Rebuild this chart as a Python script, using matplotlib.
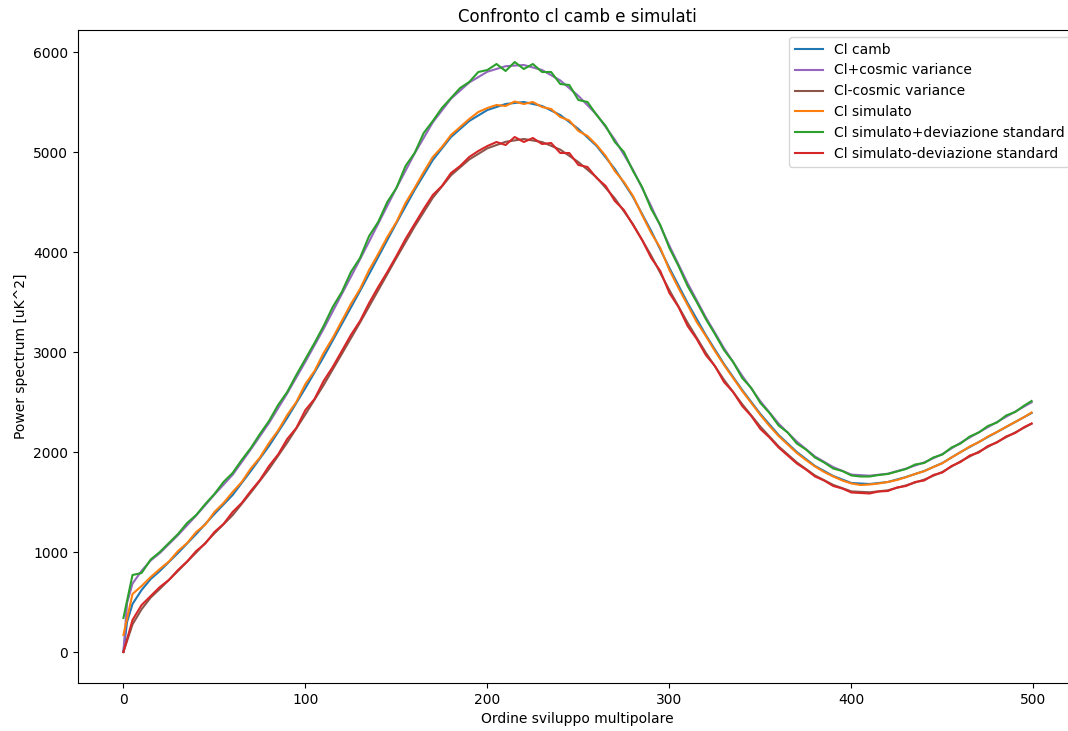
import numpy as np
import matplotlib
matplotlib.use("Agg")
import matplotlib.pyplot as plt

# Multipoles for the theoretical (CAMB) curves
ell_camb = [0, 2, 5, 10, 15, 20, 30, 40, 50, 60, 70, 80, 90, 100, 110, 120, 130, 140,
            150, 160, 170, 180, 190, 200, 210, 220, 230, 240, 250, 260, 270, 280, 290,
            300, 310, 320, 330, 340, 350, 360, 370, 380, 390, 400, 410, 420, 430, 440,
            450, 460, 470, 480, 490, 499]

cl_camb = [0, 300, 480, 620, 730, 810, 990, 1180, 1380, 1570, 1810, 2060, 2340, 2640,
           2950, 3280, 3610, 3950, 4290, 4620, 4920, 5150, 5310, 5420, 5480, 5500, 5460,
           5370, 5230, 5060, 4830, 4550, 4210, 3840, 3490, 3170, 2880, 2620, 2380, 2170,
           2000, 1860, 1760, 1690, 1680, 1700, 1750, 1810, 1890, 2000, 2100, 2200, 2300, 2390]

cl_plus_cv = [0, 490, 684, 812, 915, 989, 1169, 1365, 1574, 1772, 2026, 2290, 2586, 2903,
              3231, 3579, 3926, 4283, 4640, 4985, 5297, 5533, 5695, 5803, 5858, 5870, 5820,
              5716, 5561, 5374, 5124, 4822, 4457, 4062, 3688, 3347, 3038, 2762, 2507, 2284,
              2104, 1955, 1849, 1774, 1763, 1783, 1834, 1896, 1979, 2093, 2197, 2300, 2404, 2497]

cl_minus_cv = [0, 110, 276, 428, 545, 631, 811, 995, 1186, 1368, 1594, 1830, 2094, 2377,
               2669, 2981, 3294, 3617, 3940, 4255, 4543, 4767, 4925, 5037, 5102, 5130, 5100,
               5024, 4899, 4746, 4536, 4278, 3963, 3618, 3292, 2993, 2722, 2478, 2253, 2056,
               1896, 1765, 1671, 1606, 1597, 1617, 1666, 1724, 1801, 1907, 2003, 2100, 2196, 2283]

# Multipoles for the simulated curves
ell_sim = list(range(0, 500, 5)) + [499]

cl_sim = [170, 580, 660, 750, 830, 905, 1010, 1090, 1200, 1275, 1400, 1490, 1600, 1700,
          1835, 1945, 2090, 2215, 2370, 2500, 2680, 2810, 2990, 3140, 3310, 3480, 3630,
          3820, 3980, 4150, 4300, 4490, 4640, 4800, 4950, 5050, 5170, 5250, 5330, 5400,
          5440, 5470, 5460, 5505, 5480, 5500, 5450, 5430, 5350, 5315, 5210, 5160, 5070,
          4960, 4810, 4700, 4560, 4370, 4190, 4040, 3820, 3640, 3470, 3300, 3160, 3010,
          2870, 2740, 2610, 2490, 2370, 2260, 2160, 2075, 1990, 1920, 1855, 1800, 1755,
          1715, 1685, 1670, 1675, 1685, 1700, 1720, 1748, 1780, 1808, 1850, 1888, 1945,
          1998, 2055, 2098, 2155, 2200, 2252, 2300, 2350, 2395]

cl_sim_plus_std = [340, 770, 790, 925, 1000, 1090, 1180, 1290, 1370, 1480, 1580, 1700, 1790,
                   1920, 2040, 2180, 2310, 2470, 2600, 2770, 2930, 3090, 3260, 3450, 3600,
                   3800, 3940, 4160, 4300, 4500, 4640, 4860, 4990, 5190, 5310, 5440, 5540,
                   5640, 5700, 5800, 5820, 5880, 5810, 5900, 5830, 5880, 5800, 5800, 5680,
                   5670, 5520, 5500, 5370, 5260, 5100, 5000, 4810, 4650, 4430, 4270, 4040,
                   3860, 3660, 3500, 3330, 3180, 3020, 2900, 2740, 2640, 2490, 2390, 2265,
                   2195, 2085, 2025, 1945, 1895, 1835, 1810, 1765, 1755, 1755, 1770, 1780,
                   1805, 1830, 1875, 1890, 1945, 1975, 2045, 2085, 2155, 2195, 2260, 2295,
                   2365, 2400, 2465, 2510]

cl_sim_minus_std = [0, 320, 470, 560, 650, 720, 820, 905, 1010, 1085, 1200, 1280, 1400, 1490,
                    1610, 1720, 1860, 1975, 2130, 2240, 2420, 2530, 2710, 2850, 3010, 3170,
                    3310, 3490, 3650, 3800, 3960, 4130, 4280, 4430, 4570, 4660, 4790, 4860,
                    4950, 5010, 5060, 5100, 5070, 5150, 5100, 5140, 5080, 5090, 4990, 4990,
                    4870, 4850, 4740, 4660, 4510, 4420, 4270, 4120, 3940, 3810, 3590, 3450,
                    3260, 3130, 2970, 2860, 2700, 2600, 2460, 2360, 2230, 2145, 2045, 1965,
                    1885, 1825, 1755, 1715, 1660, 1635, 1595, 1590, 1585, 1605, 1610, 1645,
                    1660, 1700, 1715, 1770, 1795, 1860, 1900, 1965, 1995, 2060, 2095, 2155,
                    2190, 2250, 2285]

fig = plt.figure(figsize=(10.68, 7.31), dpi=100)
# the original axes run slightly past the right edge of the picture
ax = fig.add_axes([78 / 1068, 1 - 683 / 731, (1077 - 78) / 1068, (683 - 30) / 731])

ax.plot(ell_camb, cl_camb, color='C0', label='Cl camb')
ax.plot(ell_camb, cl_plus_cv, color='C4', label='Cl+cosmic variance')
ax.plot(ell_camb, cl_minus_cv, color='C5', label='Cl-cosmic variance')
ax.plot(ell_sim, cl_sim, color='C1', label='Cl simulato')
ax.plot(ell_sim, cl_sim_plus_std, color='C2', label='Cl simulato+deviazione standard')
ax.plot(ell_sim, cl_sim_minus_std, color='C3', label='Cl simulato-deviazione standard')

ax.set_xlim(-24.95, 523.95)
ax.set_ylim(-310, 6220)
ax.set_title('Confronto cl camb e simulati', fontsize=12)
ax.set_xlabel('Ordine sviluppo multipolare')
ax.set_ylabel('Power spectrum [uK^2]')
ax.legend(loc='upper right')

fig.savefig('out.png', dpi=100)
